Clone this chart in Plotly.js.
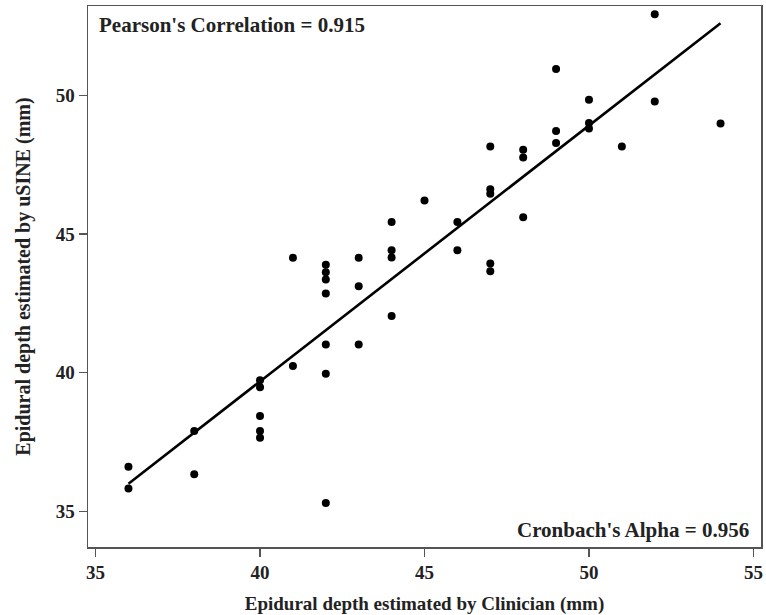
<!DOCTYPE html>
<html>
<head>
<meta charset="utf-8">
<script src="https://cdn.plot.ly/plotly-3.0.1.min.js"></script>
<style>html,body{margin:0;padding:0;background:#fff;}#chart{width:766px;height:615px;}</style>
</head>
<body>
<div id="chart"></div>
<script>
// Clinician estimate (mm)
const clinician = [36,36,38,38,40,40,40,40,40,41,41,42,42,42,42,42,42,42,43,43,43,44,44,44,44,45,46,46,47,47,47,47,47,48,48,48,49,49,49,50,50,50,51,52,52,54];
// uSINE estimate (mm)
const usine = [36.60,35.82,37.89,36.33,39.72,39.47,38.43,37.89,37.65,44.14,40.24,43.89,43.62,43.36,42.85,41.01,39.96,35.30,44.14,43.11,41.01,45.43,44.41,44.15,42.04,46.21,45.43,44.41,48.15,46.61,46.45,43.93,43.65,48.04,47.76,45.60,50.95,48.71,48.28,49.84,49.00,48.80,48.15,52.92,49.78,48.98];
const xTicks = [35,40,45,50,55];
const yTicks = [35,40,45,50];
const pearsonText = "Pearson's Correlation = 0.915";
const alphaText = "Cronbach's Alpha = 0.956";

// least-squares fit line over the data range
const n = clinician.length;
const mx = clinician.reduce((a,b)=>a+b,0)/n;
const my = usine.reduce((a,b)=>a+b,0)/n;
let sxy=0, sxx=0;
for (let i=0;i<n;i++){ sxy+=(clinician[i]-mx)*(usine[i]-my); sxx+=(clinician[i]-mx)**2; }
const slope = sxy/sxx, icpt = my - slope*mx;
const xmin = Math.min(...clinician), xmax = Math.max(...clinician);
const fitX = [xmin, xmax];
const fitY = fitX.map(v=>icpt+slope*v);

const FONT = "Liberation Serif";
const traces = [
  {x: fitX, y: fitY, type:'scatter', mode:'lines', line:{color:'#000', width:2.6}, hoverinfo:'skip'},
  {x: clinician, y: usine, type:'scatter', mode:'markers', marker:{color:'#000', size:8}}
];
const axisCommon = {
  showgrid:false, zeroline:false, showline:true, mirror:true, linecolor:'#555', linewidth:1.5,
  ticks:'outside', ticklen:8, tickwidth:1.2, tickcolor:'#555',
  tickfont:{family:FONT, size:19, color:'#222'}
};
const layout = {
  width:766, height:615,
  margin:{l:88, r:5, t:6, b:68},
  paper_bgcolor:'#fff', plot_bgcolor:'#fff',
  showlegend:false,
  font:{family:FONT, color:'#222'},
  xaxis: Object.assign({}, axisCommon, {
    range:[34.77,55.23], tickvals:xTicks, ticktext:xTicks.map(v=>'<b>'+v+'</b>'),
    title:{text:'<b>Epidural depth estimated by Clinician (mm)</b>', font:{family:FONT, size:19, color:'#222'}, standoff:16}
  }),
  yaxis: Object.assign({}, axisCommon, {
    range:[33.71,53.22], tickvals:yTicks, ticktext:yTicks.map(v=>'<b>'+v+'</b>'),
    title:{text:'<b>Epidural depth estimated by uSINE (mm)</b>', font:{family:FONT, size:20, color:'#222'}, standoff:19}
  }),
  annotations:[
    {text:'<b>'+pearsonText+'</b>', xref:'paper', yref:'paper', x:0.0135, y:0.965, xanchor:'left', yanchor:'middle', showarrow:false, font:{family:FONT, size:21, color:'#222'}},
    {text:'<b>'+alphaText+'</b>', xref:'paper', yref:'paper', x:0.985, y:0.032, xanchor:'right', yanchor:'middle', showarrow:false, font:{family:FONT, size:21, color:'#222'}}
  ]
};
Plotly.newPlot('chart', traces, layout, {displayModeBar:false, staticPlot:true});
</script>
</body>
</html>
